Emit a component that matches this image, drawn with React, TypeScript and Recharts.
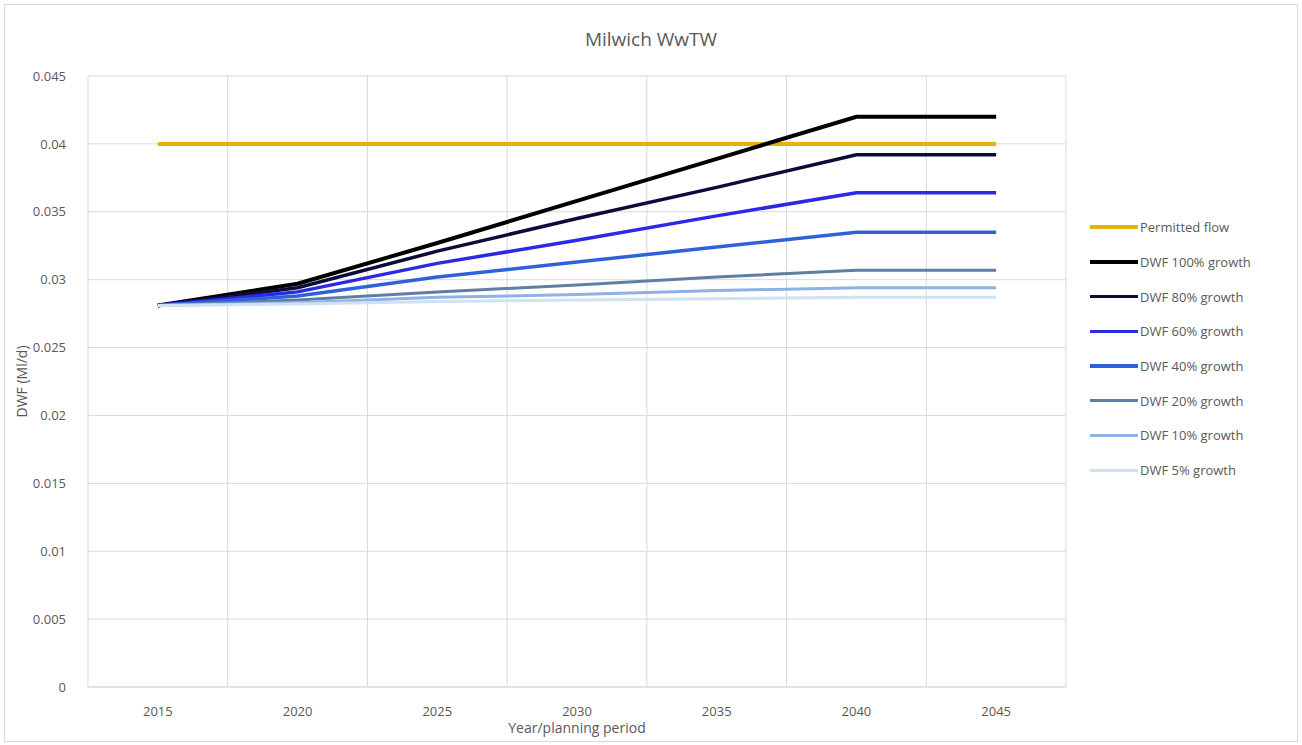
import React from "react";
import {
  LineChart, Line, XAxis, YAxis, CartesianGrid, ReferenceLine, Label
} from "recharts";

const years = [2015, 2020, 2025, 2030, 2035, 2040, 2045];
const permitted = [0.04, 0.04, 0.04, 0.04, 0.04, 0.04, 0.04];
const dwf100 = [0.0281, 0.0297, 0.0327, 0.0358, 0.0389, 0.042, 0.042];
const dwf80 = [0.0281, 0.0294, 0.0321, 0.0345, 0.0368, 0.0392, 0.0392];
const dwf60 = [0.0281, 0.0291, 0.0312, 0.0329, 0.0347, 0.0364, 0.0364];
const dwf40 = [0.0281, 0.0288, 0.0302, 0.0313, 0.0324, 0.0335, 0.0335];
const dwf20 = [0.0281, 0.0285, 0.0291, 0.0296, 0.0302, 0.0307, 0.0307];
const dwf10 = [0.0281, 0.0283, 0.0287, 0.0289, 0.0292, 0.0294, 0.0294];
const dwf5 = [0.0281, 0.0282, 0.0284, 0.0285, 0.0286, 0.0287, 0.0287];

const yTicks = [0, 0.005, 0.01, 0.015, 0.02, 0.025, 0.03, 0.035, 0.04, 0.045];
const xBounds = [2012.5, 2017.5, 2022.5, 2027.5, 2032.5, 2037.5, 2042.5, 2047.5];

const series = [
  { key: "permitted", name: "Permitted flow", values: permitted, color: "#E2B40C", width: 4 },
  { key: "dwf100", name: "DWF 100% growth", values: dwf100, color: "#000000", width: 4 },
  { key: "dwf80", name: "DWF 80% growth", values: dwf80, color: "#0C0C3C", width: 3.5 },
  { key: "dwf60", name: "DWF 60% growth", values: dwf60, color: "#2A2AE6", width: 3.5 },
  { key: "dwf40", name: "DWF 40% growth", values: dwf40, color: "#2F62DA", width: 3.5 },
  { key: "dwf20", name: "DWF 20% growth", values: dwf20, color: "#5F7EA3", width: 3 },
  { key: "dwf10", name: "DWF 10% growth", values: dwf10, color: "#8FB2E6", width: 3 },
  { key: "dwf5", name: "DWF 5% growth", values: dwf5, color: "#CFE1F3", width: 3 },
];

const data = years.map((year, i) => {
  const row: Record<string, number> = { year };
  series.forEach((s) => { row[s.key] = s.values[i]; });
  return row;
});

const FONT = "'Open Sans', 'Liberation Sans', sans-serif";
const TEXT = "#595959";

// legend sits to the right of the plot, outside the recharts layout
function LegendList() {
  return (
    <div style={{ position: "absolute", left: 1090, top: 210, fontFamily: FONT, fontSize: 13, color: TEXT }}>
      {series.map((s) => (
        <div key={s.key} style={{ display: "flex", alignItems: "center", height: 34.7 }}>
          <div style={{ width: 48, height: s.width, background: s.color }} />
          <span style={{ marginLeft: 2 }}>{s.name}</span>
        </div>
      ))}
    </div>
  );
}

export default function App() {
  return (
    <div style={{ position: "absolute", left: 0, top: 0, width: 1302, height: 745, background: "#fff" }}>
      <div style={{ position: "absolute", left: 4, top: 4, width: 1292, height: 736, border: "1px solid #d9d9d9" }} />
      <div style={{ position: "absolute", top: 26, width: 1302, textAlign: "center", fontFamily: FONT, fontSize: 19, color: TEXT }}>
        Milwich WwTW
      </div>
      <div style={{ position: "absolute", left: 0, top: 0 }}>
        <LineChart width={1302} height={745} data={data} margin={{ top: 76, right: 236, bottom: 28, left: 20 }}>
          <CartesianGrid vertical={false} stroke="#d9d9d9" />
          {xBounds.map((b) => (
            <ReferenceLine key={b} x={b} stroke="#d9d9d9" />
          ))}
          <XAxis
            dataKey="year"
            type="number"
            domain={[2012.5, 2047.5]}
            ticks={years}
            axisLine={{ stroke: "#d9d9d9" }}
            tickLine={false}
            tick={{ fill: TEXT, fontSize: 13, fontFamily: FONT }}
            tickMargin={14}
          >
            <Label value="Year/planning period" position="insideBottom" offset={-16} fill={TEXT} fontSize={14} fontFamily={FONT} />
          </XAxis>
          <YAxis
            domain={[0, 0.045]}
            ticks={yTicks}
            width={68}
            axisLine={false}
            tickLine={false}
            tick={{ fill: TEXT, fontSize: 13, fontFamily: FONT }}
            tickMargin={16}
          >
            <Label value="DWF (Ml/d)" angle={-90} position="insideLeft" offset={2} fill={TEXT} fontSize={14} fontFamily={FONT} style={{ textAnchor: "middle" }} />
          </YAxis>
          {series.map((s) => (
            <Line
              key={s.key}
              dataKey={s.key}
              name={s.name}
              stroke={s.color}
              strokeWidth={s.width}
              dot={false}
              type="linear"
              isAnimationActive={false}
            />
          ))}
        </LineChart>
      </div>
      <LegendList />
    </div>
  );
}
